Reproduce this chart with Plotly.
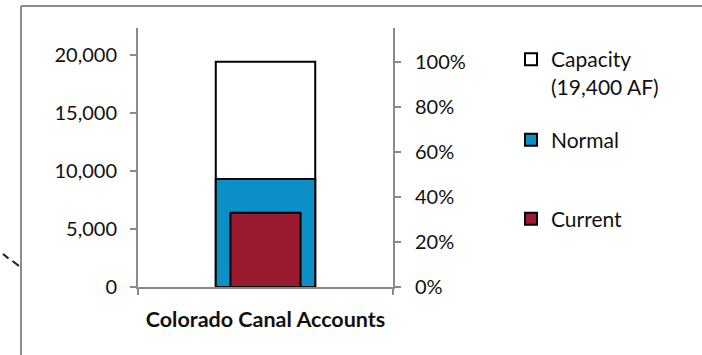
import plotly.graph_objects as go

# Reservoir account storage, acre-feet
category = ["Colorado Canal Accounts"]
capacity_af = [19400]
normal_af = [9300]
current_af = [6400]

left_ticks = [0, 5000, 10000, 15000, 20000]
pct_ticks = [0, 20, 40, 60, 80, 100]
pct_labels = ["0%", "20%", "40%", "60%", "80%", "100%"]

W, H = 702, 355
L, R, T, B = 138, 309, 28, 68
FONT = "Lato, 'Open Sans', sans-serif"
TXT = "#111111"
AXIS = "#8a8a8a"

cap = capacity_af[0]
pct_max = 115
y_max = cap * pct_max / 100

fig = go.Figure()
fig.add_trace(go.Bar(
    x=category, y=capacity_af, name="Capacity<br>(19,400 AF)", width=0.39,
    marker=dict(color="white", line=dict(color="black", width=2)),
    legend="legend",
))
fig.add_trace(go.Bar(
    x=category, y=normal_af, name="Normal", width=0.39,
    marker=dict(color="#0b8fc6", line=dict(color="black", width=2)),
    legend="legend2",
))
fig.add_trace(go.Bar(
    x=category, y=current_af, name="Current", width=0.275,
    marker=dict(color="#9a1b2f", line=dict(color="black", width=2)),
    legend="legend3",
))
# invisible trace to carry the percent axis
fig.add_trace(go.Scatter(x=category, y=[0], yaxis="y2", mode="markers",
                         marker=dict(opacity=0), showlegend=False, hoverinfo="skip"))

pw, ph = W - L - R, H - T - B


def px_x(px):
    return (px - L) / pw


def px_y(py):
    return (H - B - py) / ph


leg_common = dict(
    xref="paper", yref="paper", xanchor="left", bgcolor="rgba(0,0,0,0)",
    font=dict(family=FONT, size=21, color=TXT), borderwidth=0,
)
fig.update_layout(
    width=W, height=H,
    margin=dict(l=L, r=R, t=T, b=B),
    paper_bgcolor="white", plot_bgcolor="white",
    barmode="overlay",
    showlegend=True,
    legend=dict(x=px_x(511), y=px_y(39), yanchor="top", valign="top", **leg_common),
    legend2=dict(x=px_x(511), y=px_y(140), yanchor="middle", **leg_common),
    legend3=dict(x=px_x(511), y=px_y(219), yanchor="middle", **leg_common),
    xaxis=dict(
        type="category", range=[-0.5, 0.5], showgrid=False,
        showline=True, linecolor=AXIS, linewidth=2,
        ticks="outside", tickson="boundaries", ticklen=6, tickcolor=AXIS, tickwidth=2,
        tickfont=dict(family=FONT, size=21.5, color=TXT, weight="bold"),
        ticklabelstandoff=12,
    ),
    yaxis=dict(
        range=[0, y_max], tickvals=left_ticks, tickformat=",d", showgrid=False,
        zeroline=False, showline=True, linecolor=AXIS, linewidth=2,
        ticks="outside", ticklen=6, tickcolor=AXIS, tickwidth=2,
        tickfont=dict(family=FONT, size=20, color=TXT), ticklabelstandoff=9,
    ),
    yaxis2=dict(
        overlaying="y", side="right", range=[0, pct_max], tickvals=pct_ticks,
        ticktext=pct_labels, showgrid=False, zeroline=False, showline=True,
        linecolor=AXIS, linewidth=2, ticks="outside", ticklen=6, tickcolor=AXIS,
        tickwidth=2, tickfont=dict(family=FONT, size=20, color=TXT),
        ticklabelstandoff=10,
    ),
    hovermode=False,
)

# chart frame (top and left edges) and the stray stroke at the left
frame = dict(color="#8c8c8c", width=2)
fig.add_shape(type="line", xref="paper", yref="paper",
              x0=px_x(21), x1=px_x(702), y0=px_y(6), y1=px_y(6), line=frame)
fig.add_shape(type="line", xref="paper", yref="paper",
              x0=px_x(21), x1=px_x(21), y0=px_y(6), y1=px_y(355), line=frame)
for (xa, ya, xb, yb) in [(3, 254, 8.5, 258.5), (12.5, 261, 19, 266)]:
    fig.add_shape(type="line", xref="paper", yref="paper",
                  x0=px_x(xa), x1=px_x(xb), y0=px_y(ya), y1=px_y(yb),
                  line=dict(color="#222222", width=2.2))

fig.write_html("out.html")
